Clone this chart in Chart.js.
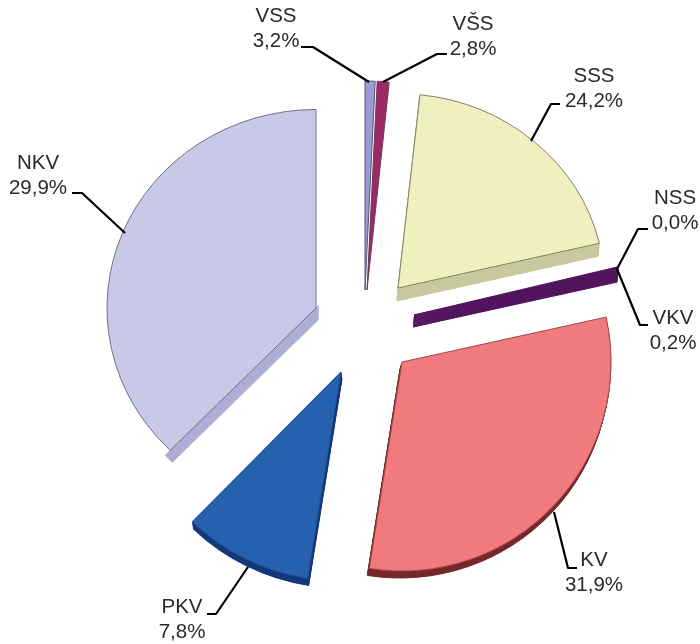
<!DOCTYPE html>
<html>
<head>
<meta charset="utf-8">
<style>html,body{margin:0;padding:0;background:#fff}canvas{display:block}</style>
<script src="https://cdn.jsdelivr.net/npm/chart.js@4/dist/chart.umd.min.js"></script>
</head>
<body>
<canvas id="c" width="700" height="644"></canvas>
<script>
// Data (percent shares, clockwise from the top of the pie)
const categories = ['VŠS', 'SSS', 'NSS', 'VKV', 'KV', 'PKV', 'NKV', 'VSS'];
const shares = [2.8, 24.2, 0.0, 0.2, 31.9, 7.8, 29.9, 3.2];

// Colours
const faceColors = ['#9c2a66', '#efefc0', '#9999cc', '#52145e', '#f07a7e', '#2561ae', '#c9c8e6', '#9a9bd2'];
const sideColors = ['#7c1f50', '#c9c9a0', '#777799', '#52145e', '#76282c', '#14397a', '#b0aed6', '#6f70a8'];
const edgeColors = ['#6d3a58', '#807f60', '#777777', '#52145e', '#a04a4e', '#1d4f96', '#6f6e88', '#55557f'];

// 3D look of the original: tilted view bends the true angle into an apparent one
const viewTrueAngles = [0, 10.08, 97.2, 97.92, 212.76, 240.84, 348.48, 360];
const viewSeenAngles = [2.8, 6.1, 76.7, 77.6, 189, 224.2, 360, 362.8];
// per-slice explode vector, extrusion vector and face stretch
const explodeVectors = [[17,-32],[48,-34],[0,0],[64,-7],[52,40],[-9,50],[-34,-14],[15,-32]];
const extrudeVectors = [[0,0],[-1,13],[0,0],[-1,12],[-2,7],[1,7],[2,12],[0,0]];
const faceStretch = [[1,1],[0.99,0.93],[1,1],[1,1],[1,1],[1.02,1],[1,0.95],[1,1]];
// slices whose side wall only shows below their first straight edge
const sideOnlyAtStartEdge = [false, false, false, false, false, false, true, false];

// Callouts: text centre and leader polyline per category
const calloutText = [[473,24],[594,76],[675,198],[673,318],[594,560],[182,607],[38,163],[276,16]];
const calloutLine = [
  [[447,54],[437,54],[383,82]],
  [[560,104],[551,104],[531,141]],
  [[648,229],[638,229],[617,269]],
  [[648,325],[640,325],[617,269]],
  [[577,568],[568,568],[554,512]],
  [[207,614],[216,614],[248,567]],
  [[72,193],[82,193],[125,233]],
  [[301,47],[313,47],[369,82]]
];
const labelFont = '20.5px "Liberation Sans", Arial, sans-serif';
const lineGap = 25;

function seenAngle(t) {
  for (let k = 1; k < viewTrueAngles.length; k++) {
    if (t <= viewTrueAngles[k]) {
      const f = (t - viewTrueAngles[k-1]) / (viewTrueAngles[k] - viewTrueAngles[k-1]);
      return viewSeenAngles[k-1] + f * (viewSeenAngles[k] - viewSeenAngles[k-1]);
    }
  }
  return viewSeenAngles[viewSeenAngles.length - 1];
}

const pieView = {
  id: 'pieView',
  afterDatasetsUpdate(chart) {
    const total = shares.reduce((a, b) => a + b, 0);
    let cum = 0;
    chart.getDatasetMeta(0).data.forEach((arc, i) => {
      const s = seenAngle(cum / total * 360);
      cum += shares[i];
      const e = seenAngle(cum / total * 360);
      arc.startAngle = (s - 90) * Math.PI / 180;
      arc.endAngle = (e - 90) * Math.PI / 180;
      arc.circumference = arc.endAngle - arc.startAngle;
    });
  },
  beforeDatasetDraw(chart, args) {
    const ctx = chart.ctx;
    args.meta.data.forEach((arc, i) => {
      if (shares[i] <= 0) return;
      const [ex, ey] = explodeVectors[i];
      const [dx, dy] = extrudeVectors[i];
      const [sx, sy] = faceStretch[i];
      const place = (ox, oy) => {
        ctx.translate(ex + ox + arc.x, ey + oy + arc.y);
        ctx.scale(sx, sy);
        ctx.translate(-arc.x, -arc.y);
      };
      const face = arc.options;
      const steps = Math.ceil(Math.hypot(dx, dy));
      ctx.save();
      if (sideOnlyAtStartEdge[i]) {
        // keep only the half-plane outside the slice's first straight edge
        const a = arc.startAngle, L = 1000;
        const ux = Math.cos(a), uy = Math.sin(a), nx = Math.sin(a), ny = -Math.cos(a);
        ctx.save();
        place(0, 0);
        ctx.beginPath();
        ctx.moveTo(arc.x - ux * L, arc.y - uy * L);
        ctx.lineTo(arc.x + ux * L, arc.y + uy * L);
        ctx.lineTo(arc.x + ux * L + nx * L, arc.y + uy * L + ny * L);
        ctx.lineTo(arc.x - ux * L + nx * L, arc.y - uy * L + ny * L);
        ctx.closePath();
        ctx.restore();
        ctx.clip();
      }
      arc.options = Object.assign({}, face, {backgroundColor: sideColors[i], borderColor: sideColors[i]});
      for (let k = steps; k >= 1; k--) {
        ctx.save();
        place(dx * k / steps, dy * k / steps);
        arc.draw(ctx);
        ctx.restore();
      }
      ctx.restore();
      arc.options = face;
      ctx.save();
      place(0, 0);
      arc.draw(ctx);
      ctx.restore();
    });
    return false;
  },
  afterDraw(chart) {
    const ctx = chart.ctx;
    ctx.save();
    ctx.strokeStyle = '#000';
    ctx.lineWidth = 2.2;
    ctx.lineJoin = 'round';
    calloutLine.forEach(pts => {
      ctx.beginPath();
      pts.forEach((p, k) => k ? ctx.lineTo(p[0], p[1]) : ctx.moveTo(p[0], p[1]));
      ctx.stroke();
    });
    ctx.fillStyle = '#2a2a2a';
    ctx.font = labelFont;
    ctx.textAlign = 'center';
    ctx.textBaseline = 'middle';
    categories.forEach((name, i) => {
      const [x, y] = calloutText[i];
      ctx.fillText(name, x, y);
      ctx.fillText(shares[i].toFixed(1).replace('.', ',') + '%', x, y + lineGap);
    });
    ctx.restore();
  }
};

new Chart(document.getElementById('c'), {
  type: 'pie',
  data: {
    labels: categories,
    datasets: [{
      data: shares,
      backgroundColor: faceColors,
      borderColor: edgeColors,
      borderWidth: 1
    }]
  },
  options: {
    responsive: false,
    animation: false,
    radius: 209,
    layout: {padding: 0},
    plugins: {legend: {display: false}, tooltip: {enabled: false}}
  },
  plugins: [pieView]
});
</script>
</body>
</html>
